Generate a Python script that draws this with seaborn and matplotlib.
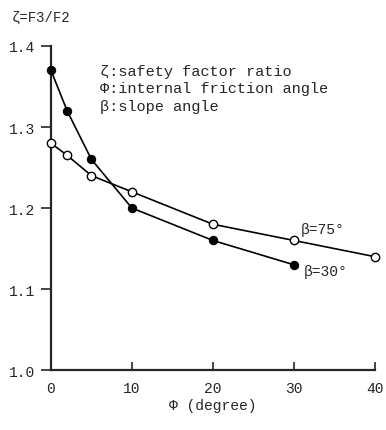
import pandas as pd
import matplotlib.pyplot as plt
import seaborn as sns

# data
phi_30 = [0, 2, 5, 10, 20, 30]
zeta_30 = [1.37, 1.32, 1.26, 1.20, 1.16, 1.13]
phi_75 = [0, 2, 5, 10, 20, 30, 40]
zeta_75 = [1.28, 1.265, 1.24, 1.22, 1.18, 1.16, 1.14]
x_ticks = [0, 10, 20, 30, 40]
y_ticks = [1.0, 1.1, 1.2, 1.3, 1.4]

df30 = pd.DataFrame({'phi': phi_30, 'zeta': zeta_30})
df75 = pd.DataFrame({'phi': phi_75, 'zeta': zeta_75})

sns.set_style('ticks')
plt.rcParams['font.family'] = ['Liberation Mono', 'DejaVu Sans Mono', 'DejaVu Sans']

fig = plt.figure(figsize=(3.86, 4.31), dpi=100)
ax = fig.add_axes([0.132, 0.139, 0.839, 0.752])

sns.lineplot(x='phi', y='zeta', data=df75, color='black', linewidth=1.2,
             marker='o', markerfacecolor='white', markeredgecolor='black',
             markeredgewidth=1.0, markersize=6, ax=ax)
sns.lineplot(x='phi', y='zeta', data=df30, color='black', linewidth=1.2,
             marker='o', markerfacecolor='black', markeredgecolor='black',
             markersize=6, ax=ax)
for ln in ax.lines:
    ln.set_clip_on(False)
    ln.set_zorder(5)

ax.set_xlim(0, 40)
ax.set_ylim(1.0, 1.4)
ax.set_xticks(x_ticks)
ax.set_yticks(y_ticks)
ax.set_xticklabels([str(t) for t in x_ticks], fontsize=10.5)
ax.set_yticklabels(['%.1f' % t for t in y_ticks], fontsize=10.5)
ax.tick_params(axis='x', direction='in', length=6, width=1.2, pad=8)
ax.tick_params(axis='y', direction='out', length=7, width=1.2, pad=4)
sns.despine(ax=ax)
for s in ['left', 'bottom']:
    ax.spines[s].set_linewidth(1.6)
ax.patch.set_alpha(0)

ax.set_xlabel('Φ (degree)', fontsize=10.5, labelpad=2)
ax.set_ylabel('')

fig.text(0.03, 0.958, 'ζ=F3/F2', fontsize=10, va='center')
ax.text(0.15, 0.912, 'ζ:safety factor ratio', transform=ax.transAxes, fontsize=11)
ax.text(0.15, 0.857, 'Φ:internal friction angle', transform=ax.transAxes, fontsize=11)
ax.text(0.15, 0.802, 'β:slope angle', transform=ax.transAxes, fontsize=11)
ax.text(30.8, 1.166, 'β=75°', fontsize=10.5, va='bottom')
ax.text(31.2, 1.122, 'β=30°', fontsize=10.5, va='center')

plt.savefig('out.png', dpi=100)
